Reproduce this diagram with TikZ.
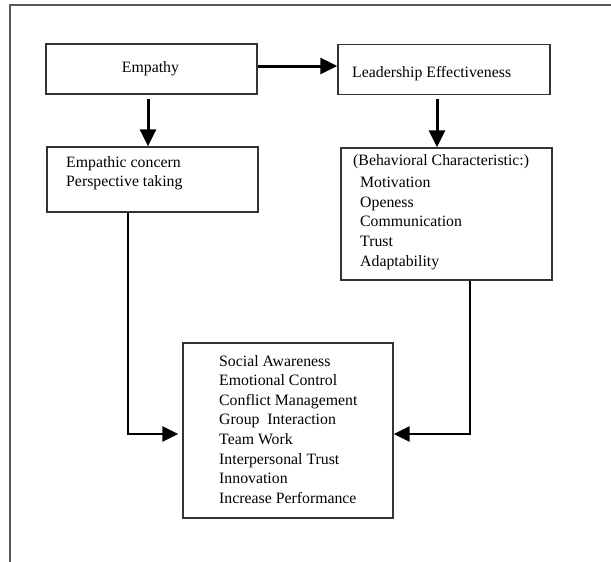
\documentclass[tikz,border=0pt]{standalone}
\usepackage{fontspec}
\setmainfont{Liberation Serif}
\usetikzlibrary{arrows.meta}
\begin{document}
\begin{tikzpicture}[x=1pt,y=-1pt,
  box/.style={draw=black!80, line width=1.4pt, inner sep=0pt, fill=white},
  txt/.style={inner sep=0pt, text=black, font=\fontsize{15.8}{19.6}\selectfont},
  arr/.style={line width=3pt, -{Triangle[length=17pt,width=16pt]}},
  conn/.style={line width=2.7pt, -{Triangle[length=16pt,width=15pt]}},
  frameline/.style={draw=black!65, line width=1.8pt}
]
\useasboundingbox (0,0) rectangle (611,562);
% outer frame
\coordinate (fbl) at (10,562);
\coordinate (ftl) at (10,5);
\coordinate (ftr) at (611,5);
\draw[frameline] (fbl) -- (ftl) -- (ftr);

% boxes
\node[box, minimum width=211pt, minimum height=50pt] (emp) at (151.5,69) {};
\node[box, minimum width=212pt, minimum height=50pt] (lead) at (444,69.5) {};
\node[box, minimum width=211pt, minimum height=65pt] (ec) at (152.5,179.5) {};
\node[box, minimum width=211pt, minimum height=132pt] (beh) at (446.5,214) {};
\node[box, minimum width=210pt, minimum height=175pt] (bot) at (288,430.5) {};

% texts
\node[txt, anchor=base] (tEmp) at (150.5,72) {Empathy};
\node[txt, anchor=base west] (tLead) at (352,77.5) {Leadership Effectiveness};
\node[txt, anchor=base west] (tEc) at (66,167) {\begin{tabular}[t]{@{}l@{}}Empathic concern\\Perspective taking\end{tabular}};
\node[txt, anchor=base west] (tBeh) at (353,165) {\begin{tabular}[t]{@{}l@{}}(Behavioral Characteristic:)\\[3pt]
\hspace{7pt}Motivation\\
\hspace{7pt}Openess\\
\hspace{7pt}Communication\\
\hspace{7pt}Trust\\
\hspace{7pt}Adaptability\end{tabular}};
\node[txt, anchor=base west] (tBot) at (219,366) {\begin{tabular}[t]{@{}l@{}}Social Awareness\\
Emotional Control\\
Conflict Management\\
Group\ \ Interaction\\
Team Work\\
Interpersonal Trust\\
Innovation\\
Increase Performance\end{tabular}};

% connectors
\draw[arr] ([yshift=3pt]emp.east) -- ([yshift=3pt]emp.east -| lead.west);
\draw[arr] ([xshift=-3.5pt,yshift=-4pt]emp.south) -- ([xshift=-3.5pt]emp.south |- ec.north);
\draw[arr] ([xshift=-7pt,yshift=-4pt]lead.south) -- ([xshift=-7pt]lead.south |- beh.north);
\draw[conn] ([xshift=-24.5pt]ec.south) |- ([xshift=-4pt,yshift=-3.5pt]bot.west);
\draw[conn] ([xshift=23.5pt]beh.south) |- ([yshift=-3.5pt]bot.east);
\end{tikzpicture}
\end{document}
